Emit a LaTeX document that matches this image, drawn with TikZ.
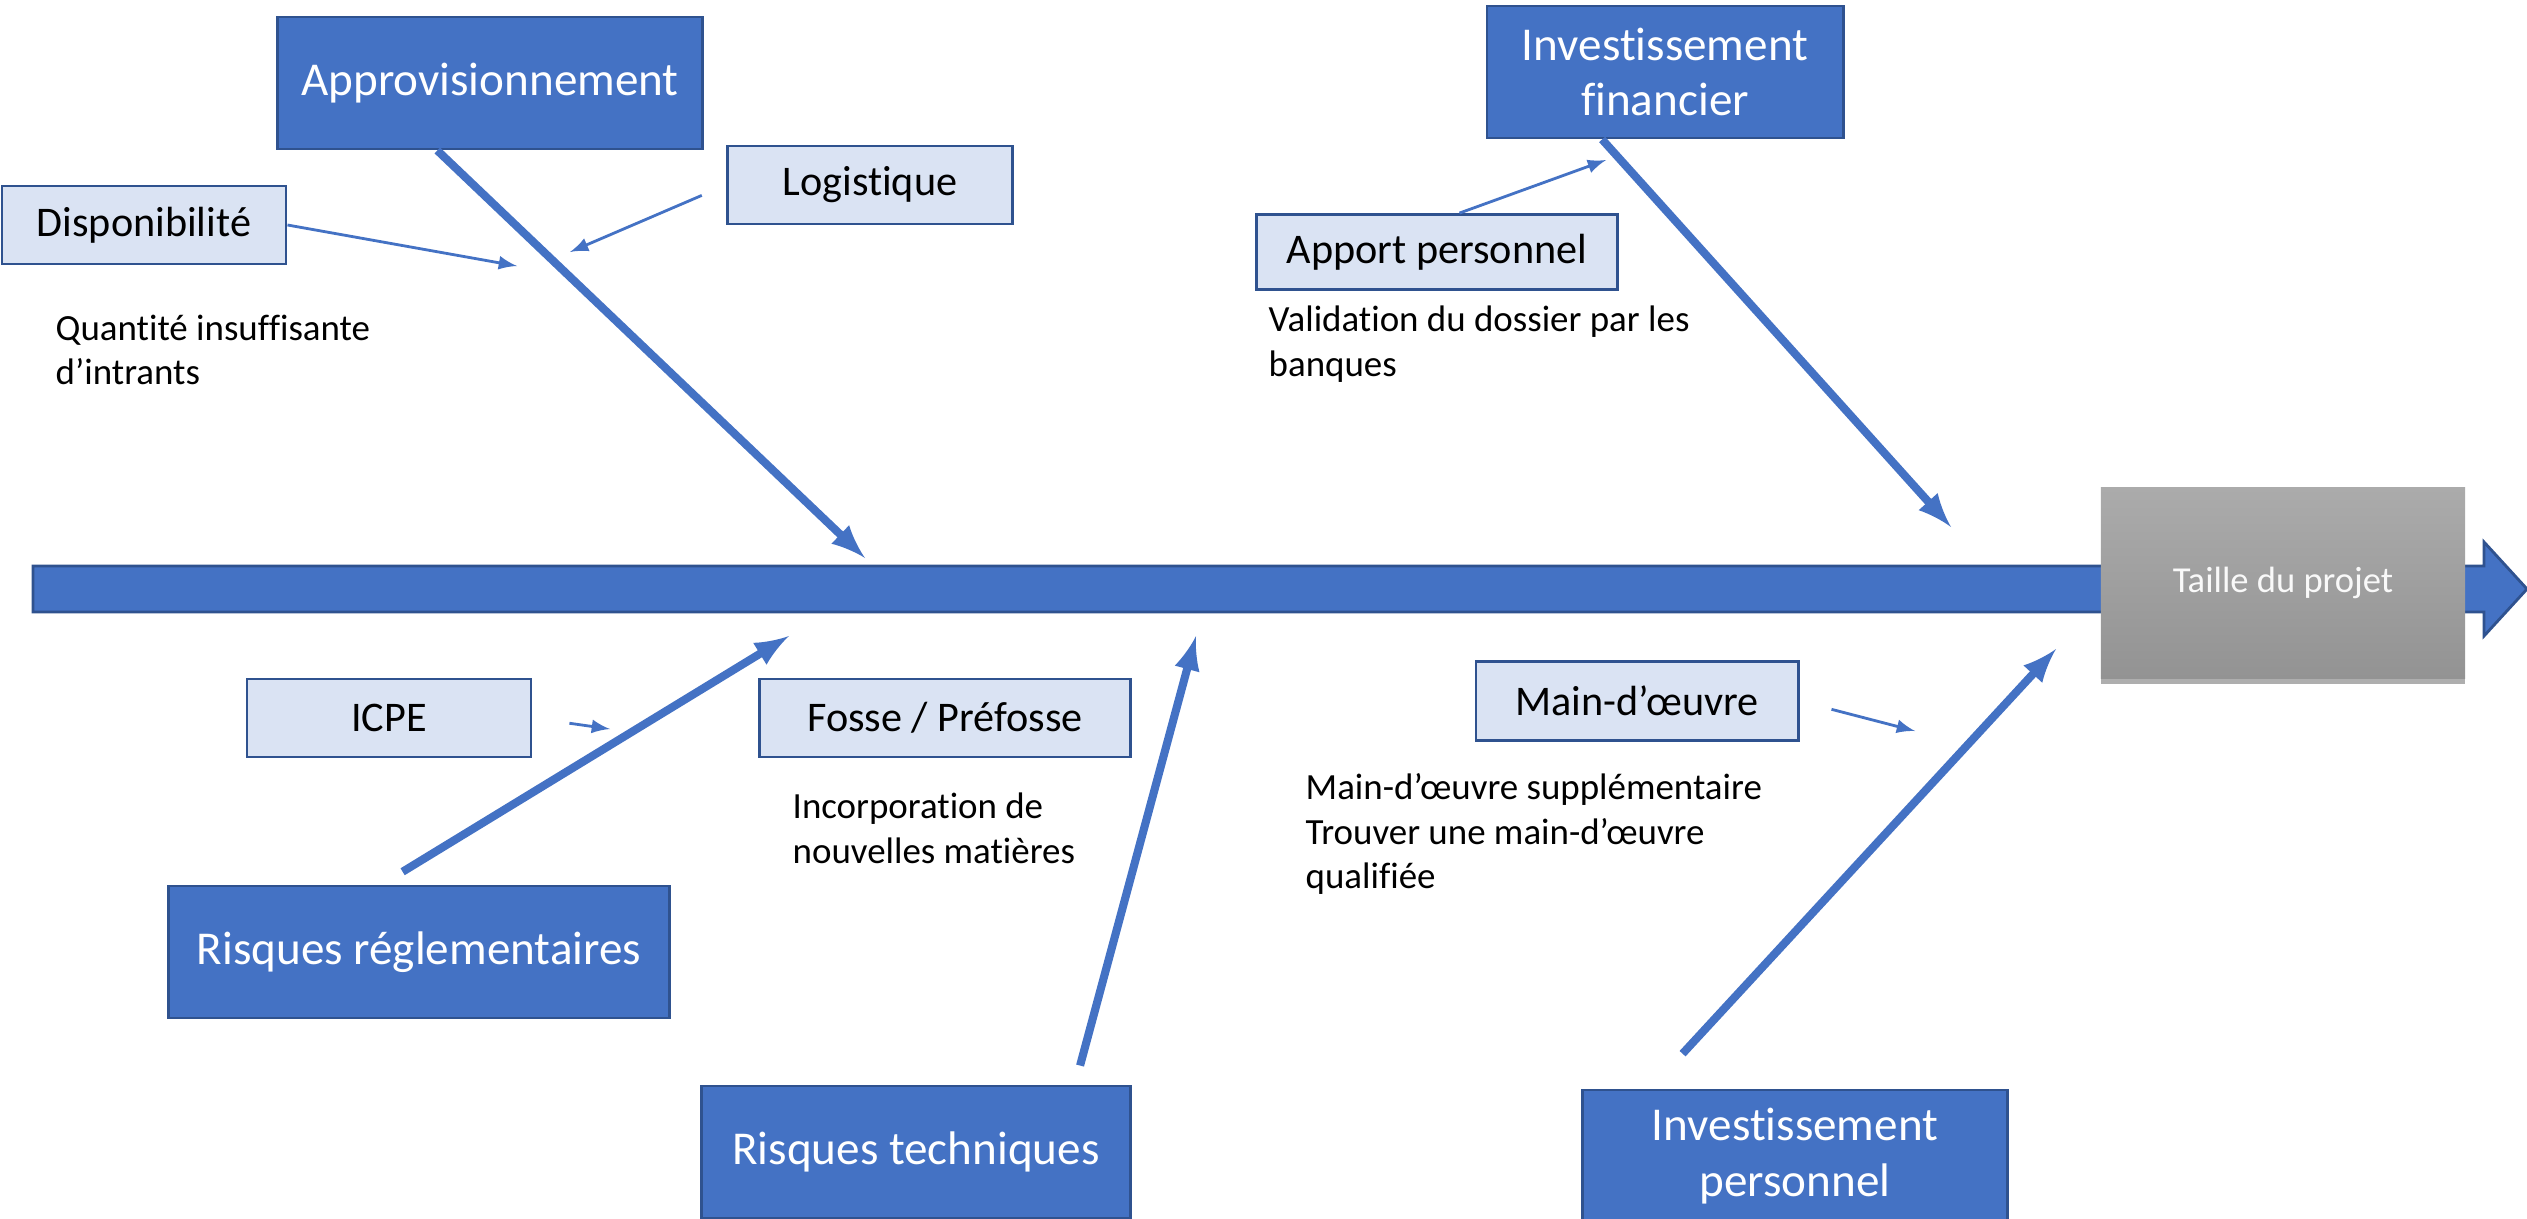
\documentclass[tikz,border=0pt]{standalone}
\usepackage{fontspec}
\setmainfont[Ligatures=NoCommon]{Carlito}
\usetikzlibrary{shadows}

\definecolor{bonecolor}{HTML}{4472C4}
\definecolor{edgecolor}{HTML}{2F528F}
\definecolor{palecolor}{HTML}{DAE3F3}
\definecolor{graytop}{HTML}{ABABAB}
\definecolor{graybot}{HTML}{939393}

\begin{document}
\begin{tikzpicture}[x=0.01cm,y=-0.01cm]
\tikzstyle{cause}=[draw=edgecolor,line width=0.8pt,fill=bonecolor,text=white,align=center,inner sep=0pt,font=\fontsize{13.4}{15.9}\selectfont]
\tikzstyle{subcause}=[draw=edgecolor,line width=0.8pt,fill=palecolor,inner sep=0pt,minimum height=0.78cm,font=\fontsize{12}{14}\selectfont]
\tikzstyle{effect}=[top color=graytop,bottom color=graybot,draw=none,text=white!95!gray,inner sep=0pt,font=\fontsize{10.4}{12.5}\selectfont,drop shadow={shadow xshift=0pt,shadow yshift=-1.5pt,opacity=0.45,fill=black!70}]
\tikzstyle{note}=[anchor=west,align=left,inner sep=0pt,font=\fontsize{10.5}{12.7}\selectfont]
\tikzstyle{bone}=[-latex,line width=2.3pt,draw=bonecolor]
\tikzstyle{twig}=[-latex,line width=0.8pt,draw=bonecolor]

\useasboundingbox (0,0) rectangle (2527,1218);

% spine
\draw [fill=bonecolor,draw=edgecolor,line width=0.8pt] (33,566) -- (2484,566) -- (2484,542) -- (2527,589) -- (2484,636) -- (2484,612) -- (33,612) -- cycle;
\node (taille) at (2283,583) [effect,minimum width=3.64cm,minimum height=1.91cm] {Taille du projet};

% main causes
\node (approv) at (490,83) [cause,minimum width=4.24cm,minimum height=1.32cm] {Approvisionnement};
\node (invfin) at (1665,72) [cause,minimum width=3.56cm,minimum height=1.32cm] {Investissement\\financier};
\node (rreg) at (419,952) [cause,minimum width=5.01cm,minimum height=1.32cm] {Risques réglementaires};
\node (rtech) at (916,1152) [cause,minimum width=4.28cm,minimum height=1.32cm] {Risques techniques};
\node (invpers) at (1795,1156) [cause,minimum width=4.25cm,minimum height=1.32cm] {Investissement\\personnel};

% sub causes
\node (dispo) at (144,225) [subcause,minimum width=2.84cm] {Disponibilité};
\node (logist) at (870,185) [subcause,minimum width=2.85cm] {Logistique};
\node (apport) at (1437,252) [subcause,minimum width=3.61cm,minimum height=0.75cm] {Apport personnel};
\node (icpe) at (389,718) [subcause,minimum width=2.84cm] {ICPE};
\node (fosse) at (945,718) [subcause,minimum width=3.70cm] {Fosse / Préfosse};
\node (main) at (1637,701) [subcause,minimum width=3.22cm,minimum height=0.79cm] {Main-d’œuvre};

% notes
\node (quant) at (55,350) [note] {Quantité insuffisante\\d’intrants};
\node (valid) at (1268,344) [note] {Validation du dossier par les\\banques};
\node (incorp) at (792,828) [note] {Incorporation de\\nouvelles matières};
\node (mainnote) at (1305,834) [note] {Main-d’œuvre supplémentaire\\Trouver une main-d’œuvre\\qualifiée};

% bones
\coordinate (approv-e) at (865,558);
\coordinate (invfin-e) at (1951,527);
\coordinate (rreg-e) at (789,636);
\coordinate (rtech-e) at (1196,636);
\coordinate (invpers-e) at (2056,649);
\draw [bone] (approv.232) -- (approv-e);
\draw [bone] (invfin.227) -- (invfin-e);
\draw [bone,shorten <=7pt] (rreg.119) -- (rreg-e);
\draw [bone,shorten <=5.6pt] (rtech.23) -- (rtech-e);
\draw [bone,shorten <=13.5pt] (invpers.155) -- (invpers-e);

% twigs
\coordinate (dispo-e) at (517,266);
\coordinate (logist-e) at (570,252);
\coordinate (apport-e) at (1606,160);
\coordinate (icpe-e) at (610,729);
\coordinate (main-e) at (1915,731);
\draw [twig] (dispo.east) -- (dispo-e);
\draw [twig,shorten <=7.5pt] (logist.west) -- (logist-e);
\draw [twig] (apport.60) -- (apport-e);
\draw [twig,shorten <=10.6pt] (icpe.east) -- (icpe-e);
\draw [twig,shorten <=9.4pt] (main.east) -- (main-e);

\end{tikzpicture}
\end{document}
